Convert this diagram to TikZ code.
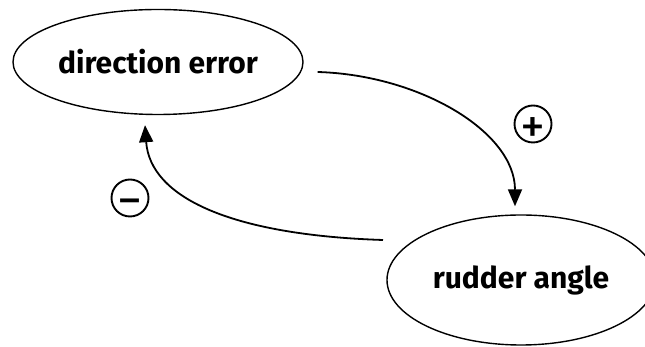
\documentclass[tikz,border=0pt]{standalone}
\usepackage{fontspec}
\setmainfont{Fira Sans}
\usetikzlibrary{arrows.meta,shapes.geometric}
% centre a sign glyph on the baseline so the circle sits round it
\newcommand{\signglyph}[1]{\smash{\raisebox{-20pt}{#1}}}
\begin{document}
\begin{tikzpicture}[x=1pt,y=1pt,
  state/.style={ellipse,draw,line width=1.4pt,font=\bfseries\fontsize{30}{34}\selectfont,inner sep=0pt},
  sign/.style={circle,draw,line width=1.9pt,minimum size=37pt,inner sep=0pt,
    font=\mdseries\fontsize{50}{50}\selectfont},
  link/.style={line width=1.8pt,-{Triangle[length=17pt,width=14pt]}}]
\useasboundingbox (0,0) rectangle (645,347);
% the two quantities of the loop
\node[state,minimum width=290pt,minimum height=105pt] (err) at (158,285) {direction error};
\node[state,minimum width=268pt,minimum height=130pt] (rud) at (521,67) {rudder angle};
% polarity markers
\node[sign] (plus) at (533,223) {\signglyph{+}};
\node[sign] (minus) at (130,149) {\signglyph{−}};
% causal links
\coordinate (a1) at ([shift={(14,-10)}]err.east);
\coordinate (b1) at ([shift={(-6,8)}]rud.north);
\draw[link] (a1) .. controls (420,272) and (515,215) .. (b1);
\draw[link] (383,107) .. controls (230,112) and (150,150) .. ([shift={(-13,-10)}]err.south);
\end{tikzpicture}
\end{document}
